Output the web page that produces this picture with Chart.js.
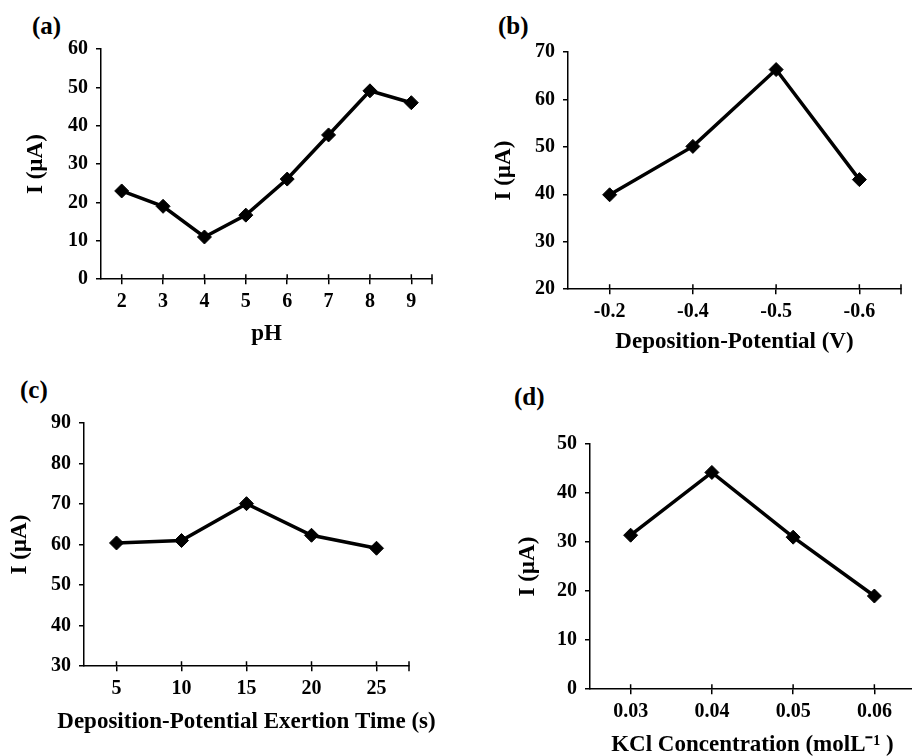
<!DOCTYPE html>
<html>
<head>
<meta charset="utf-8">
<script src="https://cdn.jsdelivr.net/npm/chart.js@4"></script>
<style>
  html, body { margin: 0; padding: 0; background: #fff; }
  body { width: 912px; height: 756px; overflow: hidden; position: relative; }
  canvas { position: absolute; }
  .tag { position: absolute; font: bold 25px "Liberation Serif", "Times New Roman", serif; line-height: 25px; color: #000; }
</style>
</head>
<body>
<div class="tag" style="left:32px; top:13px;">(a)</div>
<div class="tag" style="left:498px; top:13px;">(b)</div>
<div class="tag" style="left:20px; top:377px;">(c)</div>
<div class="tag" style="left:514px; top:384px;">(d)</div>
<canvas id="chartA"></canvas>
<canvas id="chartB"></canvas>
<canvas id="chartC"></canvas>
<canvas id="chartD"></canvas>
<script>
// (a) effect of pH
const phLabels = ['2', '3', '4', '5', '6', '7', '8', '9'];
const phCurrent = [23.0, 19.0, 11.0, 16.7, 26.1, 37.6, 49.1, 46.0];

// (b) deposition potential
const potentialLabels = ['-0.2', '-0.4', '-0.5', '-0.6'];
const potentialCurrent = [39.9, 50.1, 66.3, 43.1];

// (c) deposition time
const timeLabels = ['5', '10', '15', '20', '25'];
const timeCurrent = [60.4, 61.0, 70.1, 62.3, 59.1];

// (d) KCl concentration
const kclLabels = ['0.03', '0.04', '0.05', '0.06'];
const kclCurrent = [31.4, 44.2, 31.0, 19.0];

const FONT = '"Liberation Serif", "Times New Roman", serif';
const TICK_SIZE = 20;
const TITLE_SIZE = 23;
const TITLE_LH = TITLE_SIZE * 1.2;

// inner half of the x tick marks, the tick at the far end, and the x title
// (drawn here so it is not squeezed to the axis width)
const axisExtras = {
  id: 'axisExtras',
  afterDraw(chart, args, opts) {
    const x = chart.scales.x;
    const ctx = chart.ctx;
    ctx.save();
    ctx.strokeStyle = '#000';
    ctx.lineWidth = 1.5;
    ctx.beginPath();
    x.ticks.forEach((t, i) => {
      const px = x.getPixelForTick(i);
      ctx.moveTo(px, x.top - 5);
      ctx.lineTo(px, x.top);
    });
    ctx.moveTo(x.right, x.top - 5);
    ctx.lineTo(x.right, x.top + 5);
    ctx.stroke();

    ctx.fillStyle = '#000';
    ctx.font = 'bold ' + TITLE_SIZE + 'px ' + FONT;
    ctx.textAlign = 'center';
    ctx.textBaseline = 'middle';
    ctx.fillText(opts.text, (x.left + x.right) / 2, x.bottom - TITLE_LH / 2);
    ctx.restore();
  }
};

function makePanel(id, labels, values, yMin, yMax, xTitle, box) {
  const canvas = document.getElementById(id);
  const left0 = Math.round(box.yTitleX - 20);
  const top0 = Math.round(box.T - 20);
  const yWidth = box.L - left0;
  const xHeight = box.xTitleY - box.B + TITLE_LH / 2;
  const w = Math.round(box.R - left0 + 40);
  const h = Math.round(box.B + xHeight - top0);
  canvas.width = w;
  canvas.height = h;
  canvas.style.left = left0 + 'px';
  canvas.style.top = top0 + 'px';
  canvas.style.width = w + 'px';
  canvas.style.height = h + 'px';

  new Chart(canvas, {
    type: 'line',
    data: {
      labels: labels,
      datasets: [{
        data: values,
        borderColor: '#000',
        backgroundColor: '#000',
        borderWidth: 3.5,
        pointStyle: 'rectRot',
        pointRadius: 7,
        pointBorderWidth: 1,
        pointBackgroundColor: '#000',
        pointBorderColor: '#000',
        tension: 0,
        clip: false
      }]
    },
    options: {
      responsive: false,
      animation: false,
      devicePixelRatio: 1,
      layout: { padding: { top: box.T - top0, left: 0, right: 40, bottom: 0 } },
      plugins: {
        legend: { display: false },
        tooltip: { enabled: false },
        axisExtras: { text: xTitle }
      },
      scales: {
        x: {
          type: 'category',
          offset: true,
          grid: { drawOnChartArea: false, offset: false, color: '#000', lineWidth: 1.5, tickLength: 5 },
          border: { color: '#000', width: 1.5 },
          ticks: { color: '#000', padding: 6, maxRotation: 0, font: { family: FONT, size: TICK_SIZE, weight: 'bold' } },
          afterFit(scale) { scale.height = xHeight; }
        },
        y: {
          min: yMin,
          max: yMax,
          ticks: { stepSize: 10, color: '#000', padding: 8, font: { family: FONT, size: TICK_SIZE, weight: 'bold' } },
          grid: { drawOnChartArea: false, color: '#000', lineWidth: 1.5, tickLength: 5 },
          border: { color: '#000', width: 1.5 },
          title: { display: true, text: 'I (µA)', color: '#000', padding: { top: 20 - TITLE_LH / 2, bottom: 0 }, font: { family: FONT, size: TITLE_SIZE, weight: 'bold' } },
          afterFit(scale) { scale.width = yWidth; }
        }
      }
    },
    plugins: [axisExtras]
  });
}

makePanel('chartA', phLabels, phCurrent, 0, 60, 'pH',
  { L: 101, R: 432, T: 49, B: 279, yTitleX: 36, xTitleY: 334 });
makePanel('chartB', potentialLabels, potentialCurrent, 20, 70, 'Deposition-Potential (V)',
  { L: 568, R: 901, T: 52, B: 289, yTitleX: 504, xTitleY: 342 });
makePanel('chartC', timeLabels, timeCurrent, 30, 90, 'Deposition-Potential Exertion Time (s)',
  { L: 84, R: 409, T: 423, B: 666, yTitleX: 20, xTitleY: 722 });
makePanel('chartD', kclLabels, kclCurrent, 0, 50, 'KCl Concentration (molL⁻¹ )',
  { L: 590, R: 915, T: 444, B: 689, yTitleX: 528, xTitleY: 745 });
</script>
</body>
</html>
